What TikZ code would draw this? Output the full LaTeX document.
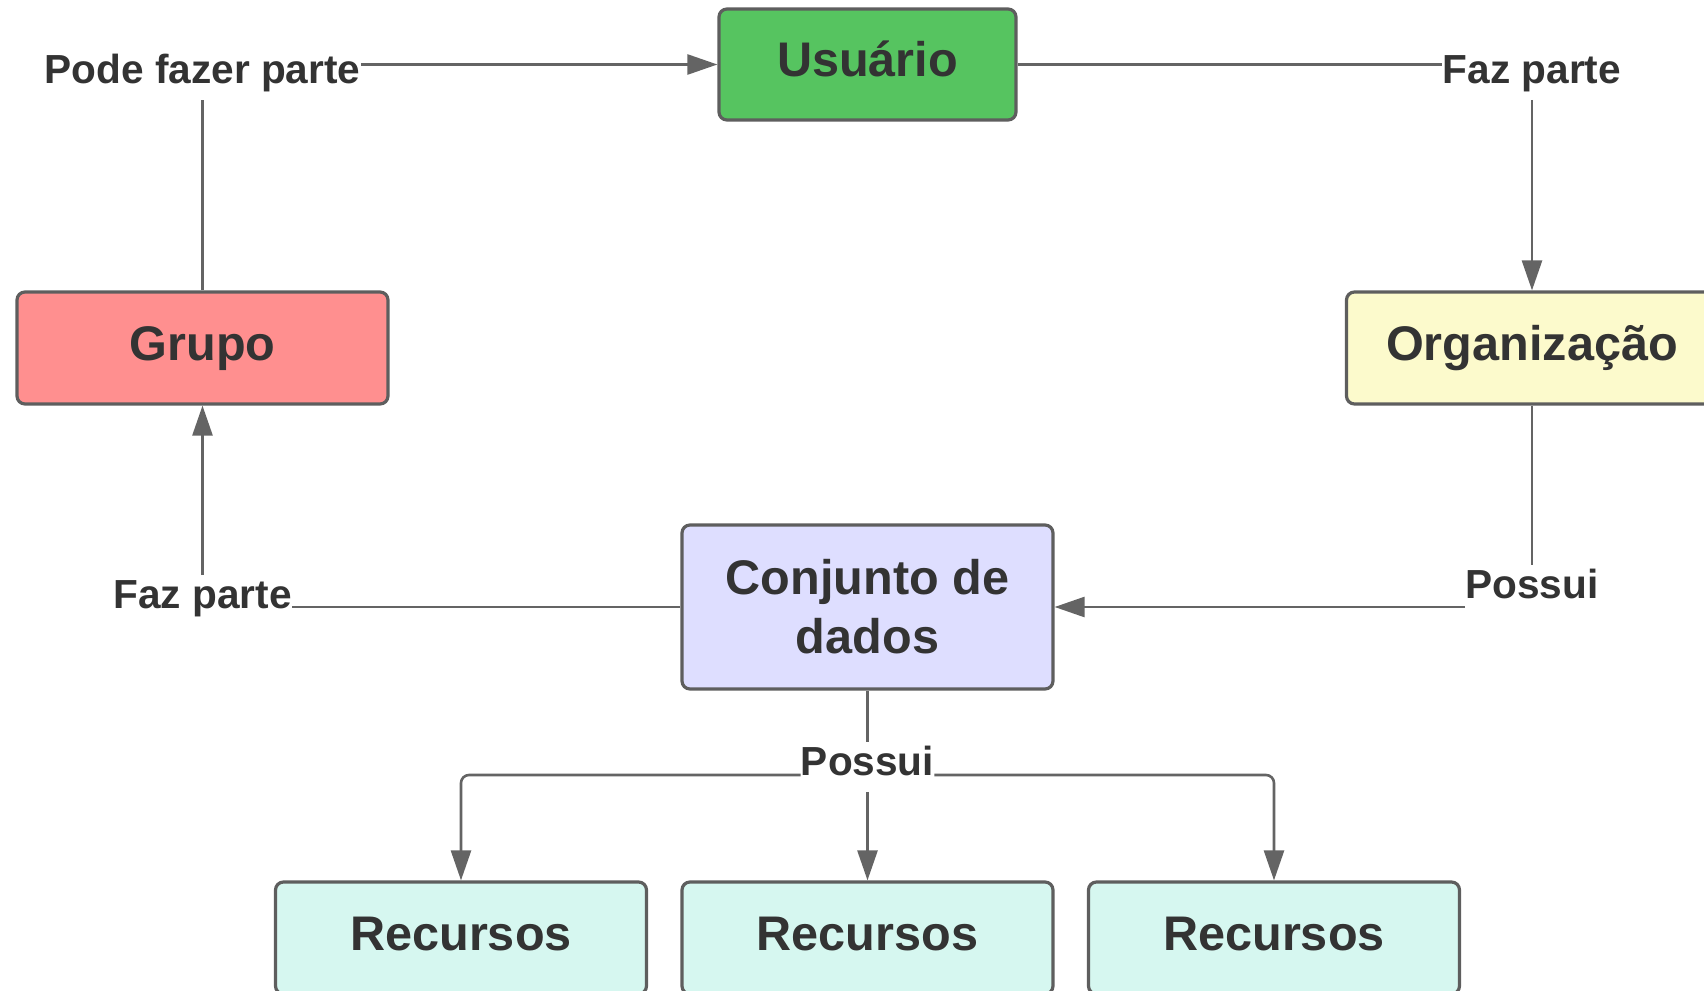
\documentclass[tikz,border=0pt]{standalone}
\usepackage{fontspec}
\setmainfont{Liberation Sans}
\usetikzlibrary{arrows.meta}
\usepackage{tikz}
\definecolor{usergreen}{RGB}{86,196,96}
\definecolor{grouppink}{RGB}{255,143,143}
\definecolor{orgyellow}{RGB}{252,250,204}
\definecolor{dataviolet}{RGB}{222,222,255}
\definecolor{resmint}{RGB}{214,247,240}
\definecolor{edgegray}{RGB}{94,94,94}
\definecolor{linegray}{RGB}{100,100,100}
\definecolor{textgray}{RGB}{51,51,51}

\begin{document}
\begin{tikzpicture}[
	x=0.5pt,y=-0.5pt,
	box/.style={draw=edgegray,line width=1.6pt,rounded corners=4pt,text=textgray,
		font=\bfseries\fontsize{24.3}{29.5}\selectfont,align=center,
		text height=17pt,text depth=5pt,
		minimum width=185.5pt,minimum height=56pt,inner sep=0pt},
	lbl/.style={text=textgray,font=\bfseries\fontsize{20.3}{24}\selectfont,
		inner sep=0pt,text height=16.25pt,text depth=8.25pt,anchor=base},
	conn/.style={draw=linegray,line width=1.3pt},
	arr/.style={conn,-{Triangle[length=15pt,width=10pt]}}
]

	% definitions
	\def\ly{83}
	\def\gx{202.5}
	\def\ox{1532}
	\def\mx{867.5}

	\useasboundingbox (0,0) rectangle (1704,991);

	% define nodes
	\node[box,fill=usergreen,minimum width=148.5pt,minimum height=55.5pt] (usuario) at (\mx,64.5) {Usuário};
	\node[box,fill=grouppink] (grupo) at (\gx,348) {Grupo};
	\node[box,fill=orgyellow] (org) at (\ox,348) {Organização};
	\node[box,fill=dataviolet,minimum height=82pt,text height={},text depth={}] (conjunto) at (\mx,607) {Conjunto de\\dados};

	\foreach \i/\x in {1/461,2/867.5,3/1274}{
		\node[box,fill=resmint] (rec\i) at (\x,938) {Recursos};
	}

	% labels
	\node[lbl] (pode) at (\gx,\ly) {Pode fazer parte};
	\node[lbl] (fazTop) at (\ox,\ly) {Faz parte};
	\node[lbl] (fazLeft) at (\gx,608) {Faz parte};
	\node[lbl] (possuiR) at (\ox,598) {Possui};
	\node[lbl] (possuiB) at (\mx,775) {Possui};

	% draw connectors
	\draw[conn] (grupo) -- (pode);
	\draw[arr] (pode.east |- usuario) -- (usuario);

	\draw[conn] (usuario) -- (fazTop.west |- usuario);
	\draw[arr] (fazTop) -- (org);

	\draw[conn] (org) -- (possuiR);
	\draw[arr] (possuiR.west |- conjunto) -- (conjunto);

	\draw[conn] (conjunto) -- (fazLeft.east |- conjunto);
	\draw[arr] (fazLeft) -- (grupo);

	\draw[conn] (conjunto) -- (possuiB);
	\draw[arr] (possuiB) -- (rec2);
	\draw[arr,rounded corners=4pt] (possuiB.base west) -| (rec1);
	\draw[arr,rounded corners=4pt] (possuiB.base east) -| (rec3);

\end{tikzpicture}
\end{document}
